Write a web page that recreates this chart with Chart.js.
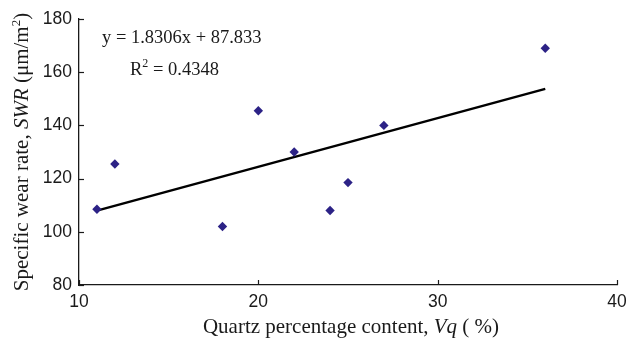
<!DOCTYPE html>
<html>
<head>
<meta charset="utf-8">
<script src="https://cdn.jsdelivr.net/npm/chart.js@4.4.1/dist/chart.umd.min.js"></script>
<style>
html,body{margin:0;padding:0;background:#fff;}
#wrap{width:627px;height:342px;position:relative;}
</style>
</head>
<body>
<div id="wrap"><canvas id="c" width="627" height="342"></canvas></div>
<script>
// Data
const quartzX = [11, 12, 18, 20, 22, 24, 25, 27, 36];
const wearY   = [108.5, 125.5, 102, 145.5, 130, 108, 118.5, 140, 169];
const trendX  = [11, 36];
const trendY  = [107.97, 153.74];
const xTicks  = [10, 20, 30, 40];
const yTicks  = [80, 100, 120, 140, 160, 180];
const equationText = "y = 1.8306x + 87.833";
const r2Label = "R";
const r2Value = " = 0.4348";

const SERIF = '"Liberation Serif", "Times New Roman", serif';
const SANS = '"Liberation Sans", Arial, sans-serif';
const INK = '#1a1a1a';

function drawRich(ctx, segs, x, y, align) {
  let total = 0;
  const widths = segs.map(s => {
    ctx.font = (s.style || '') + ' ' + s.size + 'px ' + SERIF;
    const w = ctx.measureText(s.t).width;
    total += w;
    return w;
  });
  let cx = align === 'center' ? x - total / 2 : x;
  ctx.textAlign = 'left';
  ctx.textBaseline = 'alphabetic';
  segs.forEach((s, i) => {
    ctx.font = (s.style || '') + ' ' + s.size + 'px ' + SERIF;
    ctx.fillText(s.t, cx, y - (s.sup || 0));
    cx += widths[i];
  });
}

const annotate = {
  id: 'annotate',
  afterDraw(chart) {
    const ctx = chart.ctx;
    const xs = chart.scales.x, ys = chart.scales.y;
    const ca = chart.chartArea;
    ctx.save();
    ctx.fillStyle = INK;
    ctx.strokeStyle = INK;
    ctx.lineWidth = 1.2;
    // inward tick marks
    xTicks.forEach(v => {
      const px = Math.round(xs.getPixelForValue(v)) + 0.5;
      ctx.beginPath(); ctx.moveTo(px, ca.bottom); ctx.lineTo(px, ca.bottom - 5); ctx.stroke();
    });
    yTicks.forEach(v => {
      const py = Math.round(ys.getPixelForValue(v)) + 0.5;
      ctx.beginPath(); ctx.moveTo(ca.left, py); ctx.lineTo(ca.left + 5, py); ctx.stroke();
    });
    // equation
    drawRich(ctx, [{t: equationText, size: 18.5}], 102, 43, 'left');
    drawRich(ctx, [{t: r2Label, size: 18.5}, {t: '2', size: 12, sup: 8}, {t: r2Value, size: 18.5}], 130, 75, 'left');
    // x title
    drawRich(ctx, [
      {t: 'Quartz percentage content, ', size: 21},
      {t: 'Vq', style: 'italic', size: 21},
      {t: ' ( %)', size: 21}
    ], 351, 333, 'center');
    // y title (rotated)
    ctx.translate(28, (ca.top + ca.bottom) / 2);
    ctx.rotate(-Math.PI / 2);
    drawRich(ctx, [
      {t: 'Specific wear rate, ', size: 21},
      {t: 'SWR', style: 'italic', size: 21},
      {t: ' (μm/m', size: 21},
      {t: '2', size: 13, sup: 8},
      {t: ')', size: 21}
    ], 0, 0, 'center');
    ctx.restore();
  }
};

new Chart(document.getElementById('c'), {
  type: 'scatter',
  data: {
    datasets: [
      {
        type: 'line',
        data: trendX.map((x, i) => ({x, y: trendY[i]})),
        borderColor: '#000',
        borderWidth: 2.5,
        pointRadius: 0,
        fill: false,
        order: 2
      },
      {
        data: quartzX.map((x, i) => ({x, y: wearY[i]})),
        pointStyle: 'rectRot',
        pointRadius: 4.7,
        backgroundColor: '#2c2286',
        borderColor: '#2c2286',
        borderWidth: 0,
        order: 1
      }
    ]
  },
  options: {
    responsive: false,
    animation: false,
    devicePixelRatio: 1,
    layout: {padding: {top: 19, right: 10, left: 0, bottom: 0}},
    plugins: {legend: {display: false}, tooltip: {enabled: false}},
    scales: {
      x: {
        type: 'linear', min: 10, max: 40,
        afterBuildTicks(s) { s.ticks = xTicks.map(v => ({value: v})); },
        afterFit(s) { s.height = 57; s.paddingLeft = 0; s.paddingRight = 0; },
        grid: {display: false, drawTicks: false},
        border: {display: true, color: INK, width: 1.3},
        ticks: {color: INK, font: {family: SANS, size: 17.5}, padding: 7, maxRotation: 0}
      },
      y: {
        type: 'linear', min: 80, max: 180,
        afterBuildTicks(s) { s.ticks = yTicks.map(v => ({value: v})); },
        afterFit(s) { s.width = 79; s.paddingTop = 0; s.paddingBottom = 0; },
        grid: {display: false, drawTicks: false},
        border: {display: true, color: INK, width: 1.3},
        ticks: {color: INK, font: {family: SANS, size: 17.5}, padding: 7}
      }
    }
  },
  plugins: [annotate]
});
</script>
</body>
</html>
